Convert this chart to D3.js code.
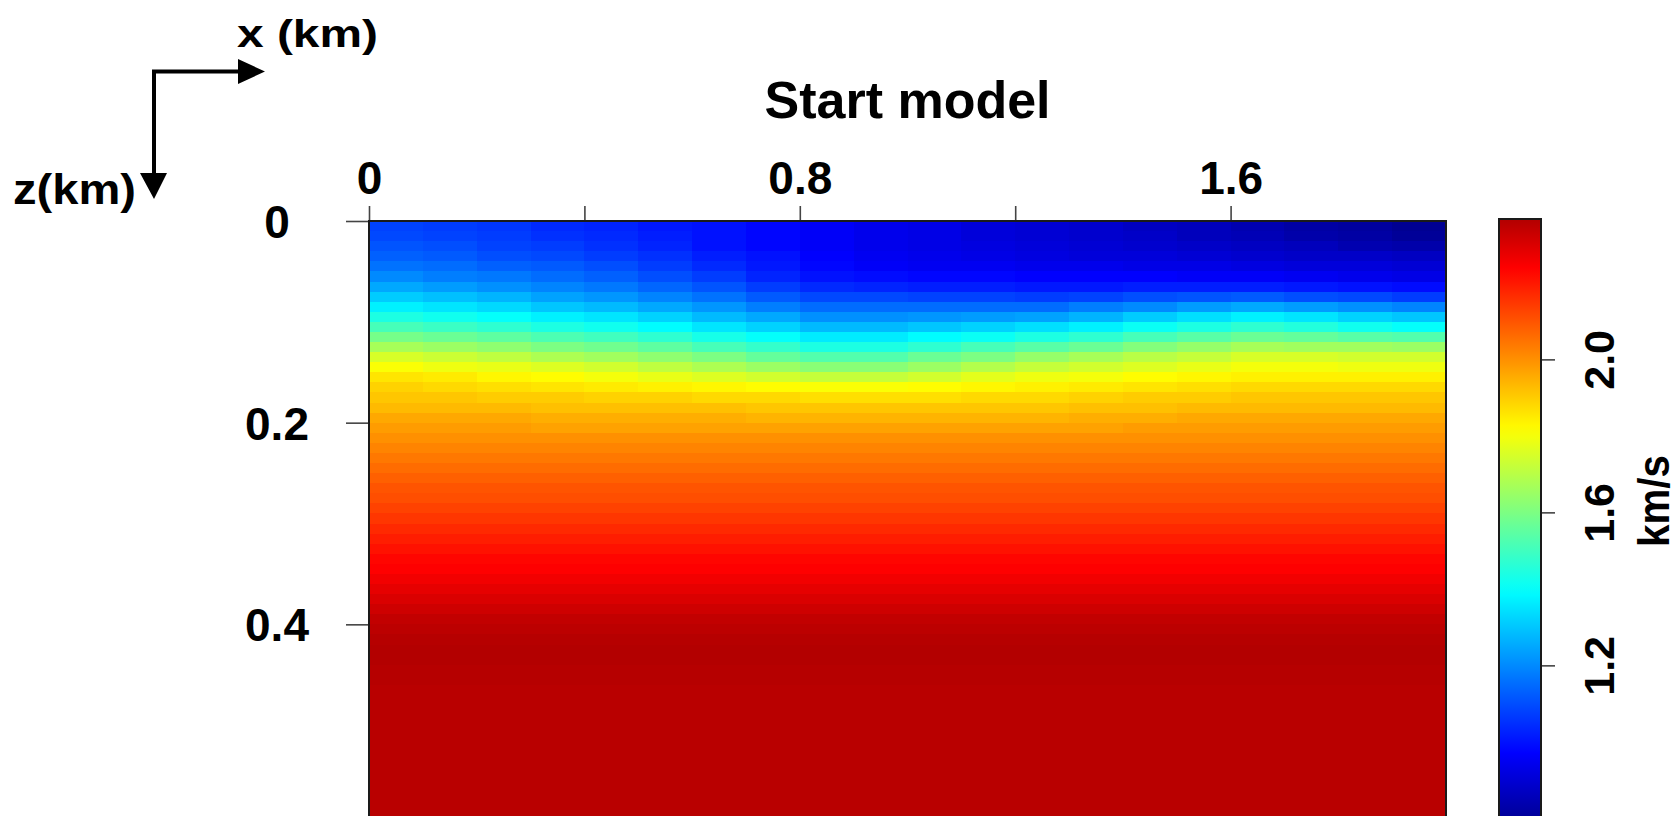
<!DOCTYPE html>
<html>
<head>
<meta charset="utf-8">
<script src="https://cdn.jsdelivr.net/npm/d3@7"></script>
<style>
  body { margin: 0; background: #fff; overflow: hidden; }
  svg { display: block; font-family: "Liberation Sans", Arial, Helvetica, sans-serif; font-weight: bold; }
</style>
</head>
<body>
<div id="chart"></div>
<script>

var width = 1679,
    height = 816;

// model grid, km
var xGrid = [0, 0.1, 0.2, 0.3, 0.4, 0.5, 0.6, 0.7, 0.8, 0.9, 1.0,
             1.1, 1.2, 1.3, 1.4, 1.5, 1.6, 1.7, 1.8, 1.9, 2.0];
var zShallow = [0, 0.01, 0.02, 0.03, 0.04, 0.05, 0.06, 0.07, 0.08, 0.09, 0.10, 0.11, 0.12,
                0.13, 0.14, 0.15, 0.16, 0.17, 0.18, 0.19, 0.20, 0.21, 0.22, 0.23, 0.24];
var zDeep = [0.24, 0.25, 0.26, 0.27, 0.28, 0.29, 0.30, 0.31, 0.32, 0.33, 0.34, 0.35, 0.36,
             0.37, 0.38, 0.39, 0.40, 0.41, 0.42, 0.43, 0.44, 0.45, 0.46, 0.47, 0.48, 0.49,
             0.50, 0.51, 0.52, 0.53, 0.54, 0.55, 0.56, 0.57, 0.58, 0.59, 0.60];

// velocity km/s : one depth profile (z = 0 .. 0.24, 0.01 steps) per 0.1 km column
var shallowVel = [
  [1.08,1.09,1.11,1.13,1.16,1.20,1.25,1.31,1.37,1.44,1.51,1.59,1.67,1.75,1.81,1.86,1.89,1.91,1.93,1.96,1.98,2.00,2.02,2.04],
  [1.07,1.08,1.10,1.12,1.15,1.18,1.23,1.29,1.35,1.42,1.49,1.57,1.65,1.73,1.79,1.85,1.88,1.91,1.93,1.96,1.98,2.00,2.02,2.04],
  [1.06,1.07,1.08,1.10,1.13,1.17,1.21,1.27,1.33,1.40,1.47,1.55,1.63,1.71,1.78,1.83,1.87,1.90,1.93,1.96,1.98,2.00,2.02,2.04],
  [1.04,1.05,1.07,1.09,1.12,1.15,1.19,1.24,1.30,1.37,1.44,1.52,1.60,1.68,1.76,1.82,1.86,1.90,1.92,1.95,1.97,2.00,2.02,2.04],
  [1.03,1.04,1.05,1.07,1.10,1.13,1.17,1.22,1.28,1.35,1.42,1.50,1.58,1.66,1.74,1.80,1.85,1.89,1.92,1.95,1.97,2.00,2.02,2.04],
  [1.01,1.02,1.03,1.05,1.07,1.10,1.14,1.19,1.25,1.32,1.39,1.47,1.55,1.63,1.71,1.78,1.84,1.89,1.92,1.95,1.97,2.00,2.02,2.04],
  [1.00,1.00,1.00,1.02,1.04,1.07,1.11,1.16,1.22,1.28,1.35,1.43,1.51,1.60,1.68,1.76,1.83,1.88,1.92,1.95,1.97,2.00,2.02,2.04],
  [0.98,0.98,0.98,1.00,1.01,1.03,1.07,1.12,1.18,1.25,1.32,1.40,1.48,1.56,1.65,1.74,1.82,1.88,1.91,1.94,1.97,2.00,2.02,2.04],
  [0.96,0.96,0.96,0.97,0.98,1.00,1.04,1.09,1.15,1.21,1.28,1.36,1.44,1.53,1.62,1.72,1.81,1.87,1.91,1.94,1.97,2.00,2.02,2.04],
  [0.94,0.94,0.94,0.95,0.96,0.99,1.03,1.09,1.15,1.21,1.28,1.36,1.44,1.53,1.62,1.72,1.81,1.87,1.91,1.94,1.97,2.00,2.02,2.04],
  [0.93,0.93,0.93,0.94,0.95,0.98,1.02,1.08,1.15,1.22,1.30,1.39,1.47,1.57,1.65,1.74,1.82,1.87,1.91,1.94,1.97,2.00,2.02,2.04],
  [0.91,0.91,0.92,0.93,0.95,0.98,1.02,1.08,1.15,1.23,1.32,1.41,1.51,1.60,1.69,1.77,1.83,1.88,1.91,1.94,1.97,2.00,2.02,2.04],
  [0.90,0.90,0.91,0.92,0.94,0.97,1.01,1.07,1.15,1.24,1.34,1.44,1.54,1.64,1.72,1.79,1.84,1.88,1.91,1.94,1.97,2.00,2.02,2.04],
  [0.89,0.89,0.90,0.91,0.94,0.97,1.01,1.08,1.18,1.27,1.37,1.47,1.57,1.67,1.74,1.80,1.85,1.89,1.92,1.95,1.97,2.00,2.02,2.04],
  [0.87,0.88,0.89,0.91,0.93,0.97,1.02,1.10,1.20,1.31,1.41,1.51,1.61,1.70,1.76,1.82,1.86,1.90,1.92,1.95,1.98,2.00,2.02,2.04],
  [0.86,0.86,0.88,0.90,0.93,0.96,1.02,1.11,1.23,1.34,1.44,1.54,1.64,1.72,1.78,1.83,1.87,1.90,1.93,1.96,1.98,2.00,2.02,2.04],
  [0.84,0.85,0.87,0.89,0.92,0.96,1.02,1.12,1.25,1.37,1.47,1.57,1.67,1.75,1.80,1.84,1.88,1.91,1.93,1.96,1.98,2.00,2.02,2.04],
  [0.82,0.83,0.86,0.88,0.91,0.95,1.01,1.10,1.23,1.35,1.45,1.56,1.66,1.75,1.80,1.84,1.88,1.91,1.93,1.96,1.98,2.00,2.02,2.04],
  [0.81,0.82,0.84,0.88,0.91,0.94,1.00,1.09,1.21,1.32,1.42,1.54,1.66,1.74,1.79,1.84,1.88,1.91,1.93,1.96,1.98,2.00,2.02,2.04],
  [0.79,0.80,0.83,0.87,0.90,0.93,0.99,1.07,1.19,1.30,1.40,1.53,1.65,1.74,1.79,1.84,1.88,1.91,1.93,1.96,1.98,2.00,2.02,2.04]
];

// below 0.24 km the model is laterally flat
var deepVel = [2.06,2.08,2.10,2.11,2.13,2.15,2.17,2.19,2.21,2.23,2.24,2.26,2.28,2.30,2.32,2.34,2.35,2.36,
               2.365,2.365,2.36,2.36,2.355,2.355,2.355,2.355,2.355,2.355,2.355,2.355,2.355,2.355,2.355,2.355,2.355,2.355];

var xTicks = [0, 0.4, 0.8, 1.2, 1.6];
var xTickLabels = ["0", "", "0.8", "", "1.6"];
var zTicks = [0, 0.2, 0.4];
var zTickLabels = ["0", "0.2", "0.4"];
var cbTicks = [1.2, 1.6, 2.0];
var cbTickLabels = ["1.2", "1.6", "2.0"];

var velRange = [0.78, 2.367];   // span of the colorbar
var jetRange = [0.76, 2.45];    // ends of the jet ramp


var plot = { left: 369, right: 1446, top: 221, bottom: 826 };
var bar = { left: 1499, right: 1541, top: 219, bottom: 826 };

var svg = d3.select("#chart").append("svg")
    .attr("width", width)
    .attr("height", height);

var x = d3.scaleLinear().domain([0, 2]).range([plot.left, plot.right]);
var y = d3.scaleLinear().domain([0, 0.6]).range([plot.top, plot.bottom]);
var cb = d3.scaleLinear().domain(velRange).range([bar.bottom, bar.top]);

var clamp01 = function(v) { return Math.max(0, Math.min(1, v)); };

var jet = function(t) {
    t = clamp01(t);
    var r = clamp01(1.5 - Math.abs(4 * t - 3)),
        g = clamp01(1.5 - Math.abs(4 * t - 2)),
        b = clamp01(1.5 - Math.abs(4 * t - 1));
    return d3.rgb(r * 255, g * 255, b * 255).toString();
};

var tScale = d3.scaleLinear().domain(jetRange).range([0, 1]);
var color = function(v) { return jet(tScale(v)); };


// cells
var cells = [];
shallowVel.forEach(function(col, i) {
    col.forEach(function(v, k) {
        cells.push({ x0: xGrid[i], x1: xGrid[i + 1], z0: zShallow[k], z1: zShallow[k + 1], v: v });
    });
});
deepVel.forEach(function(v, k) {
    cells.push({ x0: xGrid[0], x1: xGrid[xGrid.length - 1], z0: zDeep[k], z1: zDeep[k + 1], v: v });
});

svg.append("g")
    .selectAll("rect")
    .data(cells)
    .enter()
    .append("rect")
    .attr("x", function(d) { return x(d.x0); })
    .attr("y", function(d) { return y(d.z0); })
    .attr("width", function(d) { return x(d.x1) - x(d.x0) + 0.6; })
    .attr("height", function(d) { return y(d.z1) - y(d.z0) + 0.6; })
    .attr("shape-rendering", "crispEdges")
    .style("fill", function(d) { return color(d.v); });

svg.append("rect")
    .attr("x", x(0))
    .attr("y", y(0))
    .attr("width", x(2) - x(0))
    .attr("height", y(0.6) - y(0))
    .style("fill", "none")
    .style("stroke", "#1a1a1a")
    .style("stroke-width", 2);


// axes
var xAxis = d3.axisTop(x)
    .tickValues(xTicks)
    .tickSize(14)
    .tickPadding(12)
    .tickFormat(function(d, i) { return xTickLabels[i]; });

var gx = svg.append("g")
    .attr("transform", "translate(0," + (plot.top - 1) + ")")
    .call(xAxis);

var zAxis = d3.axisLeft(y)
    .tickValues(zTicks)
    .tickSize(22)
    .tickFormat(function(d, i) { return zTickLabels[i]; });

var gz = svg.append("g")
    .attr("transform", "translate(" + (plot.left - 1) + ",0)")
    .call(zAxis);

gz.selectAll(".tick text")
    .attr("x", -91)
    .attr("dy", "0.36em")
    .style("text-anchor", "middle");

[gx, gz].forEach(function(g) {
    g.select(".domain").remove();
    g.selectAll(".tick line").style("stroke", "#444").style("stroke-width", 1.6);
    g.selectAll(".tick text")
        .style("font-family", "'Liberation Sans', Arial, sans-serif")
        .style("font-weight", "bold")
        .style("font-size", "46px")
        .style("fill", "#000");
});


// colorbar
var grad = svg.append("defs").append("linearGradient")
    .attr("id", "cbgrad")
    .attr("x1", 0).attr("y1", 1)
    .attr("x2", 0).attr("y2", 0);

grad.selectAll("stop")
    .data(d3.range(0, 1.0001, 0.02))
    .enter()
    .append("stop")
    .attr("offset", function(d) { return d; })
    .attr("stop-color", function(d) { return color(velRange[0] + d * (velRange[1] - velRange[0])); });

svg.append("rect")
    .attr("x", bar.left)
    .attr("y", cb(velRange[1]))
    .attr("width", bar.right - bar.left)
    .attr("height", cb(velRange[0]) - cb(velRange[1]))
    .style("fill", "url(#cbgrad)")
    .style("stroke", "#1a1a1a")
    .style("stroke-width", 2);

var cbAxis = d3.axisRight(cb)
    .tickValues(cbTicks)
    .tickSize(13)
    .tickFormat(function(d, i) { return cbTickLabels[i]; });

var gc = svg.append("g")
    .attr("transform", "translate(" + (bar.right + 1) + ",0)")
    .call(cbAxis);

gc.select(".domain").remove();
gc.selectAll(".tick line").style("stroke", "#444").style("stroke-width", 1.6);
gc.selectAll(".tick text")
    .attr("x", 0)
    .attr("dy", 0)
    .attr("transform", "translate(72,0) rotate(-90)")
    .style("text-anchor", "middle")
    .style("font-family", "'Liberation Sans', Arial, sans-serif")
    .style("font-weight", "bold")
    .style("font-size", "43px")
    .style("fill", "#000");

svg.append("text")
    .attr("transform", "translate(1669,501) rotate(-90)")
    .attr("text-anchor", "middle")
    .attr("textLength", 92)
    .attr("lengthAdjust", "spacingAndGlyphs")
    .style("font-size", "44px")
    .text("km/s");


// title
svg.append("text")
    .attr("x", (plot.left + plot.right) / 2)
    .attr("y", 118)
    .attr("text-anchor", "middle")
    .style("font-size", "52px")
    .text("Start model");


// orientation sketch
svg.append("path")
    .attr("d", "M154,71.5 H240 M154,69.5 V176")
    .style("fill", "none")
    .style("stroke", "#000")
    .style("stroke-width", 4);

svg.append("path")
    .attr("d", "M238,59 L265,71.5 L238,84 Z M140,173 L154,199 L167,173 Z")
    .style("fill", "#000");

svg.append("text")
    .attr("x", 237)
    .attr("y", 47)
    .attr("textLength", 141)
    .attr("lengthAdjust", "spacingAndGlyphs")
    .style("font-size", "38px")
    .text("x (km)");

svg.append("text")
    .attr("x", 13)
    .attr("y", 204)
    .attr("textLength", 123)
    .attr("lengthAdjust", "spacingAndGlyphs")
    .style("font-size", "42px")
    .text("z(km)");

</script>
</body>
</html>
